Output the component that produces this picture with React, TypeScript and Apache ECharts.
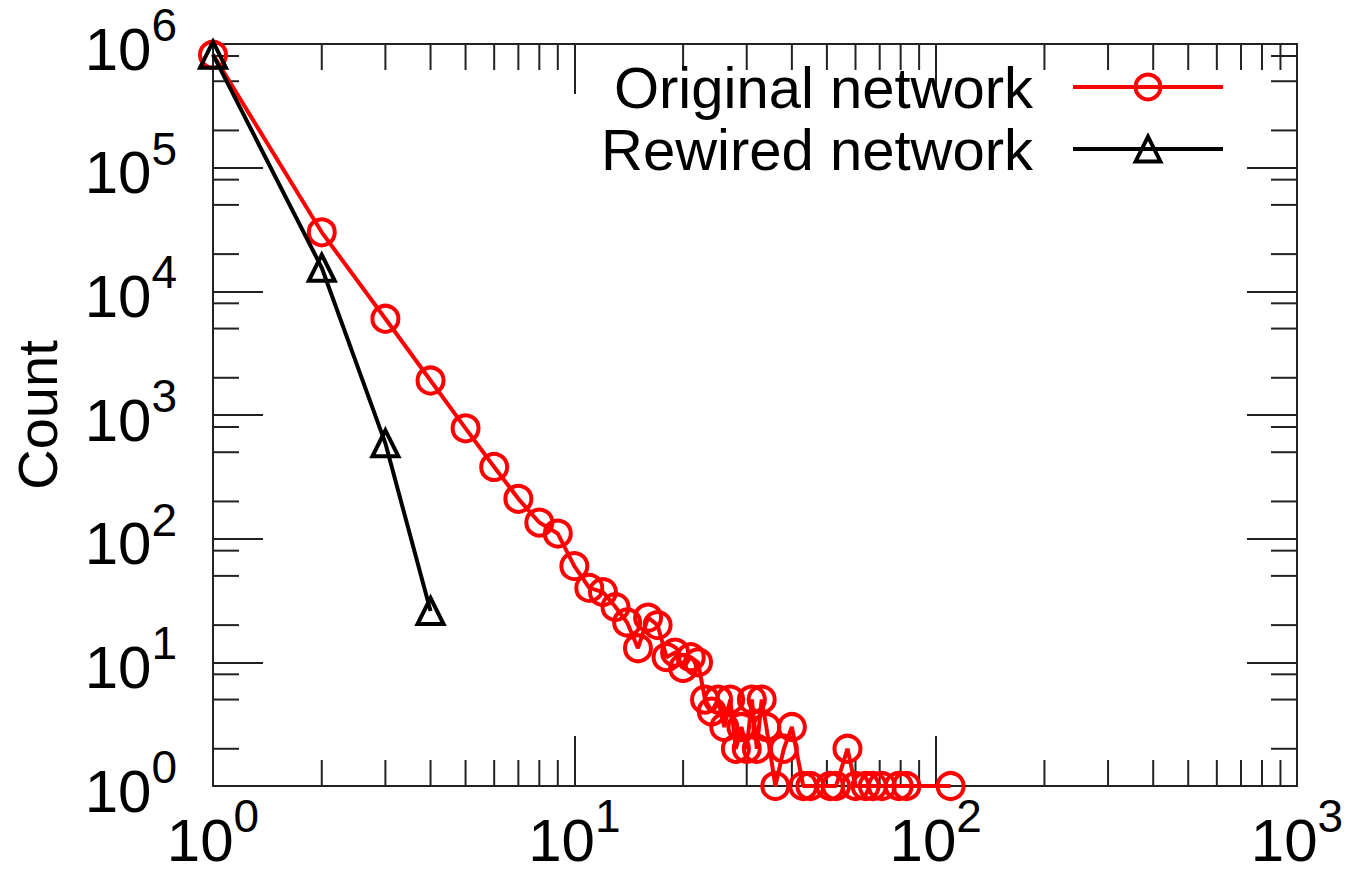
import React, { useEffect, useRef } from "react";
import * as echarts from "echarts";

// ---- data ----
const originalX = [1, 2, 3, 4, 5, 6, 7, 8, 9, 10, 11, 12, 13, 14, 15, 16, 17, 18, 19, 20, 21, 22, 23, 24, 25, 26, 27, 28, 29, 30, 31, 32, 33, 34, 36, 38, 40, 43, 45, 51, 53, 57, 60, 64, 67, 71, 79, 83, 110];
const originalY = [820000, 30000, 6000, 1900, 780, 380, 210, 135, 110, 60, 40, 37, 28, 21, 13, 23, 20, 11, 12, 9, 11, 10, 5, 4, 5, 3, 5, 2, 3, 2, 5, 2, 5, 3, 1, 2, 3, 1, 1, 1, 1, 2, 1, 1, 1, 1, 1, 1, 1];
const rewiredX = [1, 2, 3, 4];
const rewiredY = [820000, 15500, 590, 26];

const seriesNames = ["Original network", "Rewired network"];
const yAxisTitle = "Count";

const X_MIN = 1;
const X_MAX = 1000;
const Y_MIN = 1;
const Y_MAX = 1000000;

const xMinorTicks = [2, 3, 4, 5, 6, 7, 8, 9, 20, 30, 40, 50, 60, 70, 80, 90, 200, 300, 400, 500, 600, 700, 800, 900];
const yMinorTicks = [2, 5, 8, 20, 50, 80, 200, 500, 800, 2000, 5000, 8000, 20000, 50000, 80000, 200000, 500000, 800000];

const FONT = "'Liberation Sans', Arial, Helvetica, sans-serif";
const AXIS_COLOR = "#222";
const MAJOR_LEN = 50;
const MINOR_LEN = 26;

const powLabel = (v: number) => {
  const e = Math.round(Math.log10(v));
  return "{b|10}{s|" + e + "}";
};

const richLabel = {
  b: { fontSize: 60, lineHeight: 60, fontFamily: FONT, color: "#000", verticalAlign: "middle" },
  s: { fontSize: 46, lineHeight: 30, fontFamily: FONT, color: "#000", verticalAlign: "middle", padding: [0, 0, 48, 0] },
};

export default function App() {
  const ref = useRef<HTMLDivElement>(null);
  useEffect(() => {
    document.body.style.margin = "0";
    if (!ref.current) return;
    const chart = echarts.init(ref.current, null, { renderer: "svg" });

    const tickStyle = { stroke: AXIS_COLOR, lineWidth: 2 };

    const option: any = {
      animation: false,
      backgroundColor: "#fff",
      grid: { left: 213, right: 61, top: 44, bottom: 89, containLabel: false, outerBoundsMode: "none" },
      legend: {
        data: seriesNames,
        orient: "vertical",
        right: 128,
        top: 53,
        align: "right",
        itemWidth: 150,
        itemHeight: 31,
        itemGap: 4,
        itemStyle: { borderWidth: 4 },
        lineStyle: { width: 4 },
        textStyle: { fontSize: 58, fontFamily: FONT, color: "#000", padding: [0, 35, 0, 0] },
      },
      xAxis: [
        {
          type: "log",
          logBase: 10,
          min: X_MIN,
          max: X_MAX,
          splitNumber: 3,
          position: "bottom",
          axisLine: { show: true, lineStyle: { color: AXIS_COLOR, width: 2 } },
          axisTick: { show: true, inside: true, length: MAJOR_LEN, lineStyle: { color: AXIS_COLOR, width: 2 } },
          axisLabel: { show: true, margin: 24, formatter: powLabel, rich: richLabel, showMinLabel: true, showMaxLabel: true, hideOverlap: false },
          splitLine: { show: false },
        },
        {
          type: "log",
          logBase: 10,
          min: X_MIN,
          max: X_MAX,
          splitNumber: 3,
          position: "top",
          axisLine: { show: true, lineStyle: { color: AXIS_COLOR, width: 2 } },
          axisTick: { show: true, inside: true, length: MAJOR_LEN, lineStyle: { color: AXIS_COLOR, width: 2 } },
          axisLabel: { show: false },
          splitLine: { show: false },
        },
      ],
      yAxis: [
        {
          type: "log",
          logBase: 10,
          min: Y_MIN,
          max: Y_MAX,
          splitNumber: 6,
          position: "left",
          name: yAxisTitle,
          nameLocation: "middle",
          nameRotate: 90,
          nameGap: 148,
          nameTextStyle: { fontSize: 56, fontFamily: FONT, color: "#000" },
          axisLine: { show: true, lineStyle: { color: AXIS_COLOR, width: 2 } },
          axisTick: { show: true, inside: true, length: MAJOR_LEN, lineStyle: { color: AXIS_COLOR, width: 2 } },
          axisLabel: { show: true, margin: 36, padding: [10, 0, 0, 0], formatter: powLabel, rich: richLabel, showMinLabel: true, showMaxLabel: true, hideOverlap: false },
          splitLine: { show: false },
        },
        {
          type: "log",
          logBase: 10,
          min: Y_MIN,
          max: Y_MAX,
          splitNumber: 6,
          position: "right",
          axisLine: { show: true, lineStyle: { color: AXIS_COLOR, width: 2 } },
          axisTick: { show: true, inside: true, length: MAJOR_LEN, lineStyle: { color: AXIS_COLOR, width: 2 } },
          axisLabel: { show: false },
          splitLine: { show: false },
        },
      ],
      series: [
        {
          type: "custom",
          name: "xMinor",
          silent: true,
          clip: false,
          z: 1,
          xAxisIndex: 0,
          yAxisIndex: 0,
          encode: { x: 0, y: 1 },
          data: xMinorTicks.map((v) => [v, Y_MIN]),
          renderItem: (_p: any, api: any) => {
            const v = api.value(0);
            const pb = api.coord([v, Y_MIN]);
            const pt = api.coord([v, Y_MAX]);
            return {
              type: "group",
              children: [
                { type: "line", shape: { x1: pb[0], y1: pb[1], x2: pb[0], y2: pb[1] - MINOR_LEN }, style: tickStyle },
                { type: "line", shape: { x1: pt[0], y1: pt[1], x2: pt[0], y2: pt[1] + MINOR_LEN }, style: tickStyle },
              ],
            };
          },
        },
        {
          type: "custom",
          name: "yMinor",
          silent: true,
          clip: false,
          z: 1,
          xAxisIndex: 0,
          yAxisIndex: 0,
          encode: { x: 0, y: 1 },
          data: yMinorTicks.map((v) => [X_MIN, v]),
          renderItem: (_p: any, api: any) => {
            const v = api.value(1);
            const pl = api.coord([X_MIN, v]);
            const pr = api.coord([X_MAX, v]);
            return {
              type: "group",
              children: [
                { type: "line", shape: { x1: pl[0], y1: pl[1], x2: pl[0] + MINOR_LEN, y2: pl[1] }, style: tickStyle },
                { type: "line", shape: { x1: pr[0], y1: pr[1], x2: pr[0] - MINOR_LEN, y2: pr[1] }, style: tickStyle },
              ],
            };
          },
        },
        {
          type: "line",
          name: seriesNames[0],
          xAxisIndex: 0,
          yAxisIndex: 0,
          data: originalX.map((x, i) => [x, originalY[i]]),
          symbol: "circle",
          symbolSize: 26,
          showAllSymbol: true,
          clip: false,
          z: 3,
          lineStyle: { color: "#ff0000", width: 4 },
          itemStyle: { color: "rgba(255,255,255,0)", borderColor: "#ff0000", borderWidth: 4 },
        },
        {
          type: "line",
          name: seriesNames[1],
          xAxisIndex: 0,
          yAxisIndex: 0,
          data: rewiredX.map((x, i) => [x, rewiredY[i]]),
          symbol: "triangle",
          symbolSize: 26,
          showAllSymbol: true,
          clip: false,
          z: 4,
          lineStyle: { color: "#000000", width: 4 },
          itemStyle: { color: "rgba(255,255,255,0)", borderColor: "#000000", borderWidth: 4 },
        },
      ],
    };
    chart.setOption(option);
    return () => chart.dispose();
  }, []);
  return <div ref={ref} style={{ width: 1358, height: 875 }} />;
}
